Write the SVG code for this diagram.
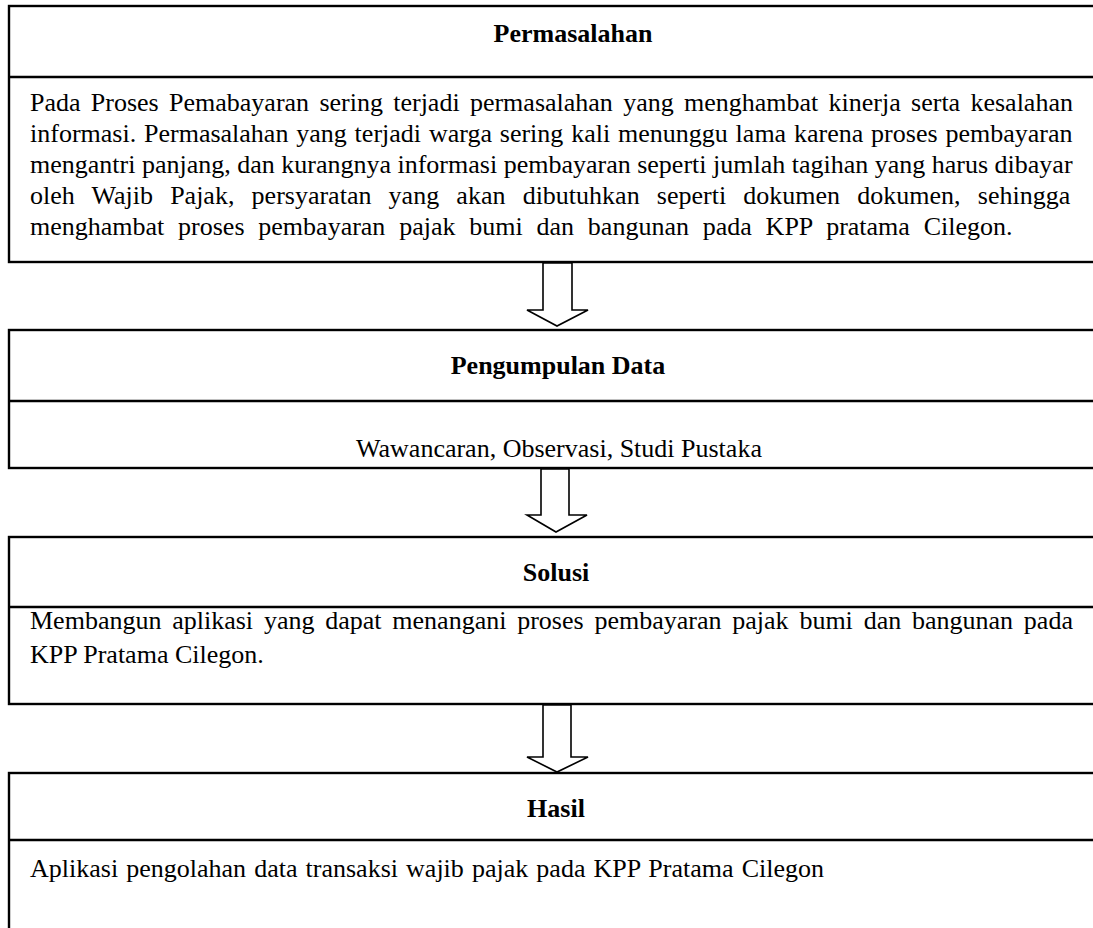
<svg xmlns="http://www.w3.org/2000/svg" width="1093" height="928" viewBox="0 0 1093 928">
<style>
.box{fill:#fff;stroke:#000;stroke-width:2.4}
.div{stroke:#000;stroke-width:2.4}
.t{font-family:"Liberation Serif","Times New Roman",serif;font-size:26px;fill:#000}
.b{font-weight:bold;text-anchor:middle}
.c{text-anchor:middle}
.arr{fill:#fff;stroke:#000;stroke-width:1.6;stroke-linejoin:miter}
</style>
<rect width="1093" height="928" fill="#fff"/>
<g id="permasalahan">
<rect class="box" x="9" y="6" width="1100" height="256"/>
<line class="div" x1="9" y1="77" x2="1100" y2="77"/>
<text class="t b" x="573" y="42">Permasalahan</text>
<text class="t" x="30" y="111" word-spacing="3.8">Pada Proses Pemabayaran sering terjadi permasalahan yang menghambat kinerja serta kesalahan</text>
<text class="t" x="30" y="142" word-spacing="1.35">informasi. Permasalahan yang terjadi warga sering kali menunggu lama karena proses pembayaran</text>
<text class="t" x="30" y="173">mengantri panjang, dan kurangnya informasi pembayaran seperti jumlah tagihan yang harus dibayar</text>
<text class="t" x="30" y="204" word-spacing="10.7">oleh Wajib Pajak, persyaratan yang akan dibutuhkan seperti dokumen dokumen, sehingga</text>
<text class="t" x="30" y="235" word-spacing="7.3">menghambat proses pembayaran pajak bumi dan bangunan pada KPP pratama Cilegon.</text>
</g>
<g id="pengumpulan">
<rect class="box" x="9" y="330" width="1100" height="138"/>
<line class="div" x1="9" y1="401" x2="1100" y2="401"/>
<text class="t b" x="558" y="374">Pengumpulan Data</text>
<text class="t c" x="559" y="457">Wawancaran, Observasi, Studi Pustaka</text>
</g>
<g id="solusi">
<rect class="box" x="9" y="537" width="1100" height="167"/>
<line class="div" x1="9" y1="607" x2="1100" y2="607"/>
<text class="t b" x="556" y="581">Solusi</text>
<text class="t" x="30" y="629" word-spacing="4.3">Membangun aplikasi yang dapat menangani proses pembayaran pajak bumi dan bangunan pada</text>
<text class="t" x="30" y="663">KPP Pratama Cilegon.</text>
</g>
<g id="hasil">
<rect class="box" x="9" y="773" width="1100" height="200"/>
<line class="div" x1="9" y1="840" x2="1100" y2="840"/>
<text class="t b" x="556" y="817">Hasil</text>
<text class="t" x="30" y="877" word-spacing="1.6">Aplikasi pengolahan data transaksi wajib pajak pada KPP Pratama Cilegon</text>
</g>
<g id="connectors">
<polygon class="arr" points="543,263 572,263 572,310 588,310 557,326 527,310 543,310"/>
<polygon class="arr" points="541,469 569,469 569,515 587,515 556,532 527,515 541,515"/>
<polygon class="arr" points="543,705 571,705 571,757 588,757 557,772 527,757 543,757"/>
</g>
</svg>
